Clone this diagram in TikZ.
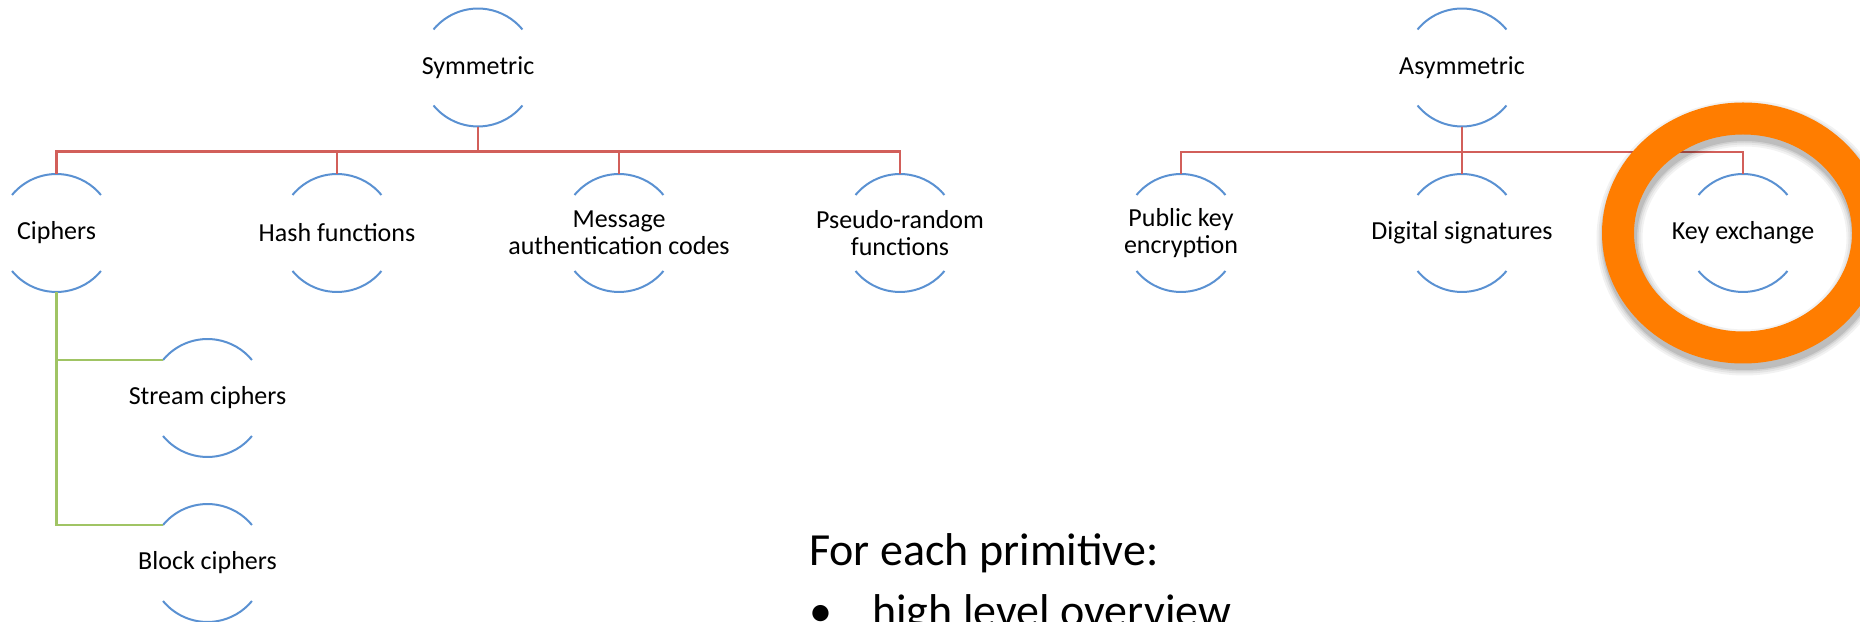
\documentclass[tikz,border=0pt]{standalone}
\usepackage{fontspec}
\setmainfont{Carlito}
\definecolor{arcblue}{RGB}{90,145,210}
\definecolor{linkred}{RGB}{210,95,90}
\definecolor{linkgreen}{RGB}{160,196,100}
\definecolor{ringorange}{RGB}{255,125,0}
\tikzset{
  box/.style={minimum width=89pt, minimum height=118pt, inner sep=0pt,
    align=center, font=\fontsize{26}{27}\selectfont},
  arcline/.style={draw=arcblue, line width=2pt},
  redlink/.style={draw=linkred, line width=2.4pt},
  greenlink/.style={draw=linkgreen, line width=2.6pt},
  bigtext/.style={font=\fontsize{46}{60}\selectfont, inner sep=0pt, anchor=base west},
}
\begin{document}
\begin{tikzpicture}[x=1pt,y=1pt]
\useasboundingbox (0,0) rectangle (1860,621);
\clip (0,0) rectangle (1860,621);

% hierarchy nodes
\node[box] (sym)    at (478,553.5) {Symmetric};
\node[box] (asym)   at (1462,553.5) {Asymmetric};
\node[box] (ciph)   at (56.5,388) {Ciphers};
\node[box] (hash)   at (337,388) {Hash functions};
\node[box] (mac)    at (619,388) {Message\\authentication codes};
\node[box] (prf)    at (900,388) {Pseudo-random\\functions};
\node[box] (pke)    at (1181,388) {Public key\\encryption};
\node[box] (sig)    at (1462,388) {Digital signatures};
\node[box] (kex)    at (1743,388) {Key exchange};
\node[box] (stream) at (207.5,223) {Stream ciphers};
\node[box] (block)  at (207.5,58) {Block ciphers};

% bracket arcs above and below every label
\foreach \n in {sym,asym,ciph,hash,mac,prf,pke,sig,kex,stream,block}{
  \draw[arcline] ([shift={(-44.5,38)}]\n.center) arc[start angle=140.5, end angle=39.5, radius=57.65];
  \draw[arcline] ([shift={(-44.5,-38)}]\n.center) arc[start angle=-140.5, end angle=-39.5, radius=57.65];
}

% tree connectors
\foreach \c in {ciph,hash,mac,prf}
  \draw[redlink] (sym.south) -- ++(0,-25) -| (\c.north);
\foreach \c in {pke,sig,kex}
  \draw[redlink, line width=1.8pt] (asym.south) -- ++(0,-25) -| (\c.north);
\draw[greenlink] (ciph.south) |- ([shift={(-44.5,38)}]stream.center);
\draw[greenlink] (ciph.south) |- ([shift={(-44.5,38)}]block.center);

% highlight ring with a soft drop shadow
\foreach \w/\o in {46/0.05,42/0.06,38/0.08,35/0.10}
  \draw[black, opacity=\o, line width=\w pt] (1744.5,383) ellipse[x radius=125, y radius=114.5];
\draw[ringorange, line width=32pt] (1743,388) ellipse[x radius=125, y radius=114.5];

% bullet text
\node[bigtext] (intro) at (809,55) {For each primitive:};
\node[bigtext] (bul) at (809,-5) {•};
\node[bigtext] (item) at (872,-5) {high level overview};
\end{tikzpicture}
\end{document}
